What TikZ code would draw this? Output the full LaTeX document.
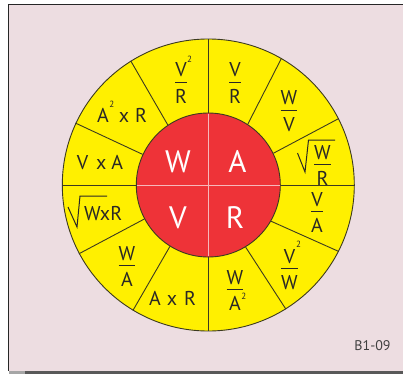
\documentclass[tikz,border=0pt]{standalone}
\usepackage{fontspec}
\setmainfont{PT Sans}
\usetikzlibrary{calc}
\definecolor{bgpink}{HTML}{EDDDE1}
\definecolor{wyellow}{HTML}{FFF000}
\definecolor{wred}{HTML}{EE3338}
\definecolor{ink}{HTML}{2A2826}
\definecolor{edge}{HTML}{3C3A20}
\definecolor{wline}{HTML}{F6B8BB}
\setlength{\arrayrulewidth}{1pt}
\newcommand\fr[2]{\begin{tabular}[t]{@{}c@{}}#1\\[-2pt]\hline\rule{0pt}{20.5pt}#2\end{tabular}}
\newcommand\sq[2][0pt]{\rlap{\kern#1\raisebox{#2}{\fontsize{9}{9}\selectfont 2}}}
\begin{document}
\begin{tikzpicture}[x=1pt,y=-1pt,
  lab/.style={text=ink, font=\fontsize{20}{24}\selectfont, inner sep=0, anchor=base},
  big/.style={text=white, font=\fontsize{31}{36}\selectfont, inner sep=0, anchor=base},
  spoke/.style={draw=edge, line width=0.9pt},
  radical/.style={draw=ink, line width=1pt, line join=miter}]
\useasboundingbox (0,0) rectangle (403,374);
\fill[white] (0,0) rectangle (403,374);
\fill[bgpink] (8.5,4.5) rectangle (403,370.5);
\fill[black!65] (8.5,370.5) rectangle (403,374);
\fill[black!35] (8.5,370.5) rectangle (25,374);
\draw[line width=1.3pt, black!85] (8.5,370.5) -- (8.5,4.5) -- (403,4.5);

\node[circle, draw=edge, fill=wyellow, line width=0.9pt, minimum size=292pt, inner sep=0] (outer) at (208.3,185) {};
\node[circle, draw=edge, fill=wred, line width=0.9pt, minimum size=144pt, inner sep=0] (inner) at (208.3,185) {};

\foreach \a/\b in {0/0, 90/90, 180/180, 270/270, 57/60, 26/27, 330/333, 301/302, 124/122, 155/155, 208/208, 238/239}
  \draw[spoke] (inner.\a) -- (outer.\b);
\draw[wline, line width=0.9pt] ([yshift=-1pt]inner.90) -- ([yshift=1pt]inner.270);
\draw[wline, line width=0.9pt] ([xshift=1pt]inner.180) -- ([xshift=-1pt]inner.0);

% centre letters
\node[big] (cW) at (178,172) {W};
\node[big] (cA) at (237.5,172) {A};
\node[big] (cV) at (178,228) {V};
\node[big] (cR) at (235,228) {R};

% ring labels
\node[lab] (f1) at (181,77) {\fr{V\sq[0.5pt]{14.5pt}}{R}};
\node[lab] (f2) at (235,77) {\fr{V}{R}};
\node[lab] (f3) at (289,105) {\fr{W}{V}};
\node[lab] (f4) at (322.5,159) {\fr{W}{R}};
\draw[radical] (297.5,153) -- (305,172) -- (308.5,140) -- (335,140);
\node[lab] (f5) at (317,206) {\fr{V}{A}};
\node[lab] (f6) at (289.5,263) {\fr{V\sq[1pt]{16pt}}{W}};
\node[lab] (f7) at (235,284) {\fr{W}{A\sq[0.5pt]{11pt}}};
\node[lab] (f8) at (172.5,305) {A\hspace{6pt}x\hspace{7pt}R};
\node[lab] (f9) at (127,260) {\fr{W}{A}};
\node[lab, anchor=base west] (f10) at (84,220) {WxR};
\draw[radical] (68,207) -- (77,227) -- (80,196) -- (107,196);
\node[lab] (f11) at (100,169) {V\hspace{8pt}x\hspace{5pt}A};
\node[lab] (f12) at (122,123) {A\sq[0.5pt]{15pt}\hspace{10pt}x\hspace{6pt}R};

\node[text=black!75, font=\fontsize{14}{16}\selectfont, inner sep=0, anchor=base] (code) at (372.5,350) {B1-09};
\end{tikzpicture}
\end{document}
